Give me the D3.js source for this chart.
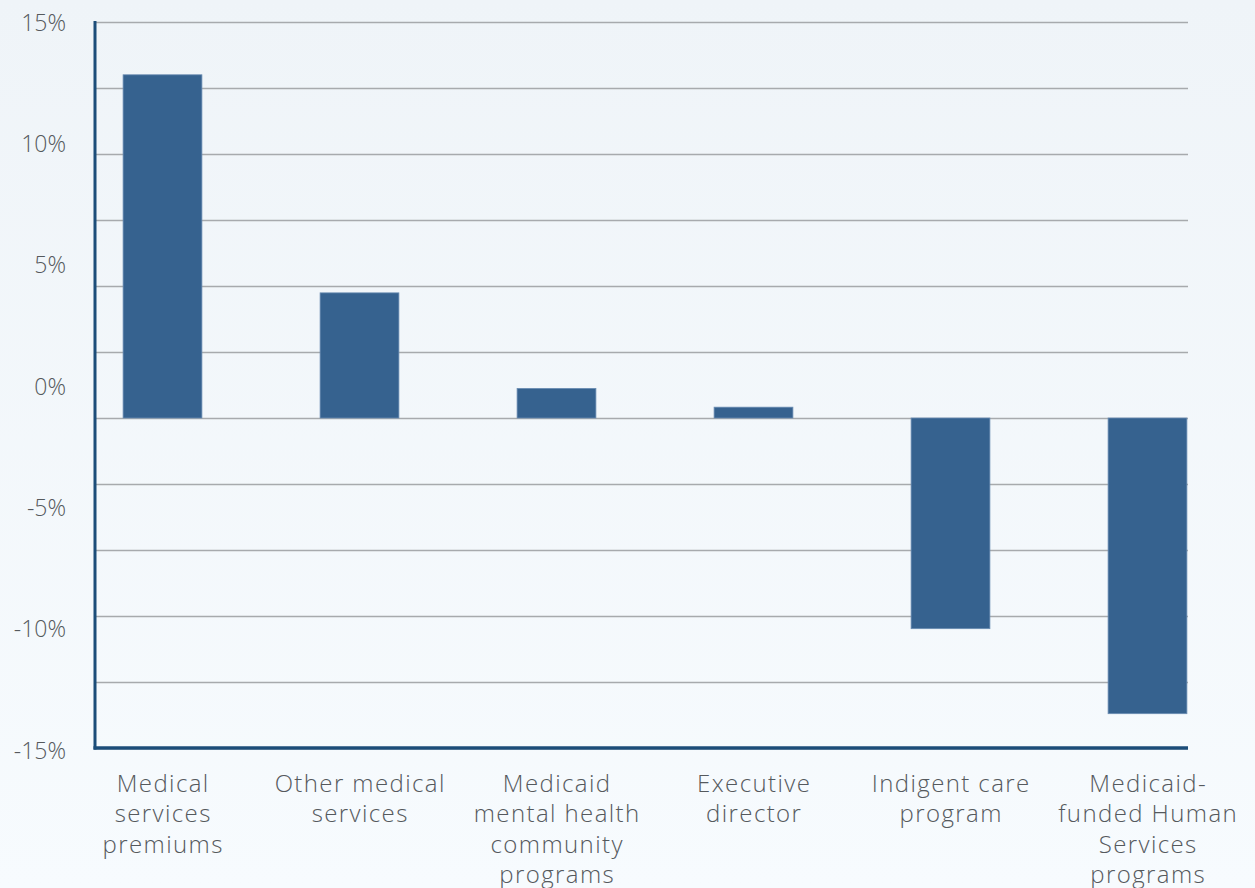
<!DOCTYPE html>
<html>
<head>
<meta charset="utf-8">
<script src="https://cdn.jsdelivr.net/npm/d3@7"></script>
<style>
  html, body { margin: 0; padding: 0; background: #f4f8fb; }
  svg.chart { display: block; }
  .lbl text { font-family: "Open Sans", Lato, sans-serif; font-weight: 300; fill: #55595d; }
</style>
</head>
<body>
<svg class="chart" width="1255" height="888"></svg>
<script>
// data
var categories = [
  ["Medical", "services", "premiums"],
  ["Other medical", "services"],
  ["Medicaid", "mental health", "community", "programs"],
  ["Executive", "director"],
  ["Indigent care", "program"],
  ["Medicaid-", "funded Human", "Services", "programs"]
];
var changePct = [13.0, 4.74, 1.12, 0.41, -7.98, -11.2];
var tickLabels = [15, 10, 5, 0, -5, -10, -15];
var gridValues = [15, 12.5, 10, 7.5, 5, 2.5, 0, -2.5, -5, -7.5, -10, -12.5];

var W = 1255, H = 888,
    plotL = 95, plotR = 1188, plotT = 22, plotB = 748,
    navy = "#1c4d79", barFill = "#36628f";

var chart = d3.select("svg.chart");

// faint background wash
var defs = chart.append("defs");
var grad = defs.append("linearGradient").attr("id", "bg").attr("x1", 0).attr("y1", 0).attr("x2", 0).attr("y2", 1);
grad.append("stop").attr("offset", "0%").attr("stop-color", "#eff4f8");
grad.append("stop").attr("offset", "100%").attr("stop-color", "#f7fbfe");
chart.append("rect").attr("width", W).attr("height", H).attr("fill", "url(#bg)");

// value scale: gridlines every 2.5%, zero at the bar baseline
var yScale = d3.scaleLinear().domain([-12.5, 15]).range([plotB, plotT]);
// printed labels are spread evenly over the plot height
var yLabelScale = d3.scaleLinear().domain([-15, 15]).range([plotB + 2, plotT]);

var xScale = d3.scaleBand()
  .domain(d3.range(categories.length))
  .range([64, 1246])
  .paddingInner(0.6)
  .paddingOuter(0.3);

// gridlines
var grid = d3.axisLeft(yScale).tickValues(gridValues).tickSize(-(plotR - plotL)).tickFormat("");
chart.append("g").attr("id", "gridG")
  .attr("transform", "translate(" + plotL + ",0)")
  .call(grid)
  .call(function (g) {
    g.select(".domain").remove();
    g.selectAll("line").attr("stroke", "#a7aaad").attr("stroke-width", 1.6);
  });

// bars
chart.append("g").selectAll("rect")
  .data(changePct)
  .enter()
  .append("rect")
  .attr("x", function (d, i) { return xScale(i); })
  .attr("width", xScale.bandwidth())
  .attr("y", function (d) { return yScale(Math.max(0, d)); })
  .attr("height", function (d) { return Math.abs(yScale(d) - yScale(0)); })
  .attr("fill", barFill)
  .attr("stroke", "#6a8cb2")
  .attr("stroke-width", 0.8);

// axis lines
chart.append("line").attr("x1", plotL).attr("x2", plotL).attr("y1", plotT - 1).attr("y2", plotB + 1.5)
  .attr("stroke", navy).attr("stroke-width", 3);
chart.append("line").attr("x1", plotL - 1.5).attr("x2", plotR).attr("y1", plotB).attr("y2", plotB)
  .attr("stroke", navy).attr("stroke-width", 3.5);

// y tick labels
var yAxis = d3.axisLeft(yLabelScale).tickValues(tickLabels).tickSize(0).tickPadding(0)
  .tickFormat(function (d) { return d + "%"; });
chart.append("g").attr("class", "lbl")
  .attr("transform", "translate(66,0)")
  .call(yAxis)
  .call(function (g) {
    g.select(".domain").remove();
    g.selectAll("text").attr("font-size", 23).attr("dy", "0.36em");
  });

// x category labels
var xl = chart.append("g").attr("class", "lbl").selectAll("text")
  .data(categories)
  .enter()
  .append("text")
  .attr("text-anchor", "middle")
  .attr("font-size", 24)
  .attr("letter-spacing", 1.4)
  .attr("y", 792);
xl.each(function (lines, i) {
  var t = d3.select(this), cx = xScale(i) + xScale.bandwidth() / 2 + 0.7;
  lines.forEach(function (s, j) {
    t.append("tspan").attr("x", cx).attr("dy", j === 0 ? 0 : 30.3).text(s);
  });
});
</script>
</body>
</html>
